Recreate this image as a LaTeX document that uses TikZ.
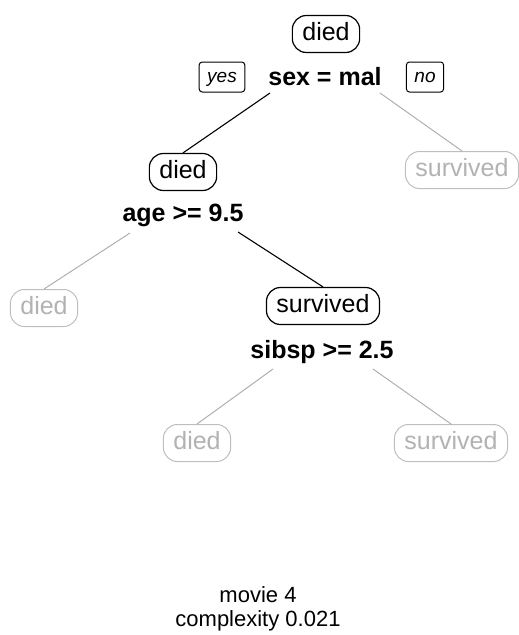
\documentclass[tikz,border=0pt]{standalone}
\usepackage{fontspec}
\setmainfont{Liberation Sans}
\usetikzlibrary{calc}
\definecolor{gtext}{RGB}{178,178,178}
\definecolor{gbord}{RGB}{190,190,190}
\definecolor{gline}{RGB}{175,175,175}
\tikzset{
  leafbox/.style={draw=black, line width=1.2pt, rounded corners=14pt,
    font=\fontsize{25}{28}\selectfont, text height=18pt, text depth=5pt,
    inner xsep=10pt, inner ysep=7pt},
  greybox/.style={leafbox, draw=gbord, text=gtext, line width=1pt},
  splitlabel/.style={font=\fontsize{25}{28}\selectfont\bfseries, inner sep=0pt,
    text height=18pt, text depth=5pt},
  edgebox/.style={draw=black, line width=1pt, rounded corners=3pt,
    font=\fontsize{19}{22}\selectfont\itshape, text height=14pt, text depth=4pt,
    inner xsep=8pt, inner ysep=6pt},
  blackline/.style={draw=black, line width=1.1pt},
  greyline/.style={draw=gline, line width=1pt},
}
\begin{document}
\begin{tikzpicture}[x=1pt,y=-1pt]
\useasboundingbox (0,0) rectangle (519,635);
% nodes
\node[leafbox] (root) at (326,34) {died};
\node[splitlabel] (sex) at (325,79) {sex = mal};
\node[edgebox] (yes) at (222,77) {yes};
\node[edgebox] (no) at (425,77) {no};
\node[leafbox] (n2) at (183,172) {died};
\node[greybox] (n3) at (462,170) {survived};
\node[splitlabel] (age) at (183,215) {age >= 9.5};
\node[greybox] (n4) at (44,308) {died};
\node[leafbox] (n5) at (323,306) {survived};
\node[splitlabel] (sib) at (322,352) {sibsp >= 2.5};
\node[greybox] (n10) at (197,443) {died};
\node[greybox] (n11) at (451,443) {survived};
\node[font=\fontsize{22}{24}\selectfont, align=center, inner sep=0pt] (cap) at (258,609) {movie 4\\complexity 0.021};
% connectors
\draw[blackline] ($(sex)+(-55,14)$) -- (n2.north);
\draw[greyline] ($(sex)+(55,14)$) -- (n3.north);
\draw[greyline] ($(age)+(-53,18)$) -- (n4.north);
\draw[blackline] ($(age)+(55,17)$) -- (n5.north);
\draw[greyline] ($(sib)+(-49,17)$) -- (n10.north);
\draw[greyline] ($(sib)+(51,17)$) -- (n11.north);
\end{tikzpicture}
\end{document}
